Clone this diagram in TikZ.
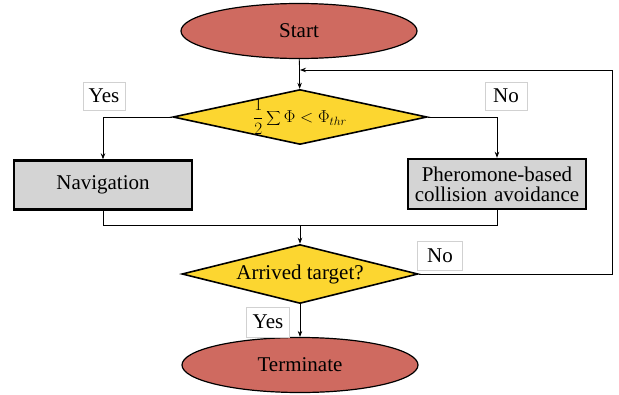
\documentclass[tikz,border=0pt]{standalone}
\usepackage{fontspec}
\setmainfont{Liberation Serif}
\usetikzlibrary{shapes.geometric,arrows.meta}
\definecolor{termred}{HTML}{CF6A60}
\definecolor{decyel}{HTML}{FCD630}
\definecolor{boxgray}{HTML}{D4D4D4}
\tikzset{
  every node/.style={font=\fontsize{21}{24}\selectfont},
  term/.style={ellipse,draw,line width=1.2pt,fill=termred,inner sep=0pt,minimum width=236pt,minimum height=55pt},
  decision/.style={diamond,draw,line width=1.6pt,fill=decyel,inner sep=0pt},
  procbox/.style={rectangle,draw,line width=2.4pt,fill=boxgray,inner sep=0pt,align=center,text width=170pt},
  lbl/.style={rectangle,draw=black!18,line width=0.5pt,fill=white,inner sep=0pt,minimum width=42pt,minimum height=28pt},
  conn/.style={line width=0.8pt},
  arr/.style={conn,-{Stealth[length=6pt,width=4.5pt]}}
}
\begin{document}
\begin{tikzpicture}[x=1pt,y=-1pt]
\useasboundingbox (0,0) rectangle (619,394);
\node[term] (start) at (299,31) {Start};
\node[decision,minimum width=254pt,minimum height=55pt,shape aspect=4.6,font=\fontsize{18.5}{21}\selectfont] (d1) at (300,117) {$\displaystyle\frac{1}{2}\sum\Phi<\Phi_{thr}$};
\node[procbox,minimum width=178pt,minimum height=49pt] (nav) at (103,185) {Navigation};
\node[procbox,minimum width=178pt,minimum height=50pt,text width=176pt] (phe) at (497,184) {Pheromone-based\\[-4pt]collision avoidance};
\node[decision,minimum width=236pt,minimum height=59pt,shape aspect=4] (d2) at (300,274) {Arrived target?};
\node[term] (end) at (300,365) {Terminate};
\node[lbl] (yes1) at (104,96) {Yes};
\node[lbl] (no1) at (506,96) {No};
\node[lbl,minimum width=45pt,minimum height=29pt] (no2) at (440,256) {No};
\node[lbl,minimum width=43pt,minimum height=30pt] (yes2) at (268,322) {Yes};
\coordinate (join) at (300,225);
\coordinate (loopin) at (300,70);
\coordinate (corner) at (612,70);
\draw[arr] (start) -- (d1);
\draw[arr] (d1.west) -| (nav.north);
\draw[arr] (d1.east) -| (phe.north);
\draw[conn] (nav.south) |- (join);
\draw[conn] (phe.south) |- (join);
\draw[arr] (join) -- (d2.north);
\draw[arr] (d2.east) -| (corner) -- (loopin);
\draw[arr] (d2.south) -- (end.north);
\end{tikzpicture}
\end{document}
